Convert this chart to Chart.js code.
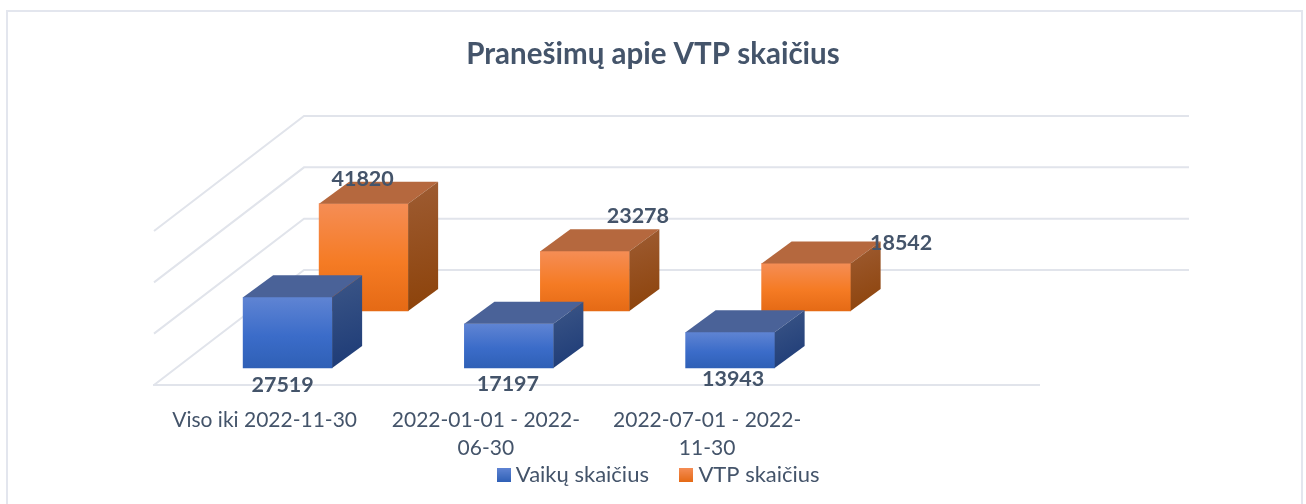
<!DOCTYPE html>
<html>
<head>
<meta charset="utf-8">
<title>Pranešimų apie VTP skaičius</title>
<script src="https://cdn.jsdelivr.net/npm/chart.js@4"></script>
<style>
  html, body { margin: 0; padding: 0; background: #fff; overflow: hidden; }
  #wrap { width: 1306px; height: 504px; }
</style>
</head>
<body>
<div id="wrap"><canvas id="chart"></canvas></div>
<script>
const categories = ["Viso iki 2022-11-30", ["2022-01-01 - 2022-", "06-30"], ["2022-07-01 - 2022-", "11-30"], ""];
const vaikuSkaicius = [27519, 17197, 13943];
const vtpSkaicius = [41820, 23278, 18542];
const valueTicks = [0, 20000, 40000, 60000];

const FONT = "Lato";
const TEXT = "#44546A";
const GRID = "#E1E4EB";

// oblique projection of the 3D look, in px
const FLOOR = { dx: 150, dy: -115 };   // full depth of floor and walls
const BOX = { dx: 30, dy: -22 };       // depth of one bar
const ROW = [{ dx: 23, dy: -17 }, { dx: 99, dy: -74 }]; // shift of each series row

const COLORS = [
  { front: ["#5F84D3", "#3B6CC9", "#2F60B6"], top: "#4A6298", side: ["#3C5687", "#1C3A76"] },
  { front: ["#F58D55", "#F57B24", "#E56A15"], top: "#B5683E", side: ["#9E5C33", "#8C4209"] },
];

// hand placed data labels in the original, offset from front top centre of each bar
const LABEL_OFFSETS = [
  [[-5, 88], [-1, 60], [3, 47]],
  [[-1, -25], [53, -35], [95, -20]],
];

function frontFill(ctx, row) {
  if (ctx.type !== "data") return COLORS[row].front[1];
  const y = ctx.chart.scales.y;
  const top = y.getPixelForValue(ctx.raw) + ROW[row].dy;
  const bottom = y.getPixelForValue(0) + ROW[row].dy;
  const g = ctx.chart.ctx.createLinearGradient(0, top, 0, bottom);
  g.addColorStop(0, COLORS[row].front[0]);
  g.addColorStop(0.55, COLORS[row].front[1]);
  g.addColorStop(1, COLORS[row].front[2]);
  return g;
}

function swatch(row) {
  const c = document.createElement("canvas");
  c.width = 14;
  c.height = 14;
  const x = c.getContext("2d");
  const g = x.createLinearGradient(0, 0, 0, 14);
  g.addColorStop(0, COLORS[row].front[0]);
  g.addColorStop(1, COLORS[row].front[2]);
  x.fillStyle = g;
  x.fillRect(0, 0, 14, 14);
  return c;
}

function poly(ctx, pts, fill) {
  ctx.beginPath();
  pts.forEach((p, i) => (i ? ctx.lineTo(p[0], p[1]) : ctx.moveTo(p[0], p[1])));
  ctx.closePath();
  ctx.fillStyle = fill;
  ctx.fill();
}

const box3d = {
  id: "box3d",
  afterLayout(chart) {
    // legend padding is what spaces the two items, so it takes too much height.
    // x axis is fitted short and the tick labels are allowed to run over its box
    chart.scales.x.bottom += 40;
    chart.legend.top -= 8;
    chart.legend.bottom -= 8;
    chart.legend.left += 8;
    chart.legend.right += 8;
  },
  beforeDraw(chart) {
    // outer frame, runs off the bottom of the page
    const ctx = chart.ctx;
    ctx.save();
    ctx.strokeStyle = "#E3E6EE";
    ctx.lineWidth = 2;
    ctx.strokeRect(7, 11, 1295, 520);
    ctx.restore();
  },
  afterDatasetsUpdate(chart) {
    // move each series to its row on the floor
    chart.data.datasets.forEach((ds, row) => {
      chart.getDatasetMeta(row).data.forEach((el) => {
        el.x += ROW[row].dx;
        el.y += ROW[row].dy;
        el.base += ROW[row].dy;
      });
    });
  },
  beforeDatasetsDraw(chart) {
    // floor and walls, from the value scale
    const { ctx, chartArea, scales } = chart;
    ctx.save();
    ctx.strokeStyle = GRID;
    ctx.lineWidth = 2;
    scales.y.ticks.forEach((t) => {
      const y = scales.y.getPixelForValue(t.value);
      ctx.beginPath();
      ctx.moveTo(chartArea.left, y);
      ctx.lineTo(chartArea.left + FLOOR.dx, y + FLOOR.dy);
      ctx.lineTo(chartArea.right + FLOOR.dx, y + FLOOR.dy);
      ctx.stroke();
    });
    ctx.restore();
  },
  afterDatasetDraw(chart, args) {
    // top and side faces of the bars of this series
    const row = args.index;
    const ctx = chart.ctx;
    ctx.save();
    args.meta.data.forEach((el) => {
      const l = el.x - el.width / 2;
      const r = el.x + el.width / 2;
      const t = el.y;
      const b = el.base;
      poly(ctx, [[l, t], [r, t], [r + BOX.dx, t + BOX.dy], [l + BOX.dx, t + BOX.dy]], COLORS[row].top);
      const g = ctx.createLinearGradient(r, t + BOX.dy, r + BOX.dx, b);
      g.addColorStop(0, COLORS[row].side[0]);
      g.addColorStop(1, COLORS[row].side[1]);
      poly(ctx, [[r, t], [r + BOX.dx, t + BOX.dy], [r + BOX.dx, b + BOX.dy], [r, b]], g);
    });
    ctx.restore();
  },
  afterDatasetsDraw(chart) {
    const ctx = chart.ctx;
    ctx.save();
    ctx.font = "700 21.5px " + FONT;
    ctx.fillStyle = TEXT;
    ctx.textAlign = "center";
    ctx.textBaseline = "middle";
    chart.data.datasets.forEach((ds, row) => {
      chart.getDatasetMeta(row).data.forEach((el, i) => {
        const off = LABEL_OFFSETS[row][i];
        ctx.fillText(String(ds.data[i]), el.x + off[0], el.y + off[1]);
      });
    });
    ctx.restore();
  },
};

new Chart(document.getElementById("chart"), {
  type: "bar",
  plugins: [box3d],
  data: {
    labels: categories,
    datasets: [
      { label: "Vaikų skaičius", data: vaikuSkaicius, backgroundColor: (c) => frontFill(c, 0) },
      { label: "VTP skaičius", data: vtpSkaicius, backgroundColor: (c) => frontFill(c, 1) },
    ],
  },
  options: {
    responsive: true,
    maintainAspectRatio: false,
    animation: false,
    datasets: { bar: { grouped: false, barThickness: 89, clip: false } },
    layout: { padding: { top: 37 } },
    scales: {
      x: {
        grid: { display: false },
        border: { display: true, color: GRID, width: 2 },
        ticks: {
          color: TEXT,
          font: { family: FONT, size: 21, lineHeight: 1.33 },
          padding: 13,
          autoSkip: false,
          maxRotation: 0,
        },
        afterFit: (s) => { s.height = 51; },
      },
      y: {
        min: valueTicks[0],
        max: valueTicks[valueTicks.length - 1],
        grid: { display: false },
        border: { display: false },
        ticks: { display: false, stepSize: valueTicks[1] - valueTicks[0] },
        afterFit: (s) => { s.width = 154; },
      },
      // empty axis, keeps the plot off the right side while title and legend stay centred
      spacer: {
        position: "right",
        grid: { display: false },
        border: { display: false },
        ticks: { display: false },
        afterFit: (s) => { s.width = 267; },
      },
    },
    plugins: {
      title: {
        display: true,
        text: "Pranešimų apie VTP skaičius",
        color: TEXT,
        font: { family: FONT, size: 29.5, weight: "700" },
        padding: { top: 0, bottom: 158.6 },
      },
      legend: {
        position: "bottom",
        labels: {
          color: TEXT,
          font: { family: FONT, size: 22 },
          usePointStyle: true,
          pointStyleWidth: 2.5,
          padding: 36,
          generateLabels: (chart) =>
            chart.data.datasets.map((ds, i) => ({
              text: ds.label,
              pointStyle: swatch(i),
              fontColor: TEXT,
              datasetIndex: i,
            })),
        },
      },
      tooltip: { enabled: false },
    },
  },
});
</script>
</body>
</html>
